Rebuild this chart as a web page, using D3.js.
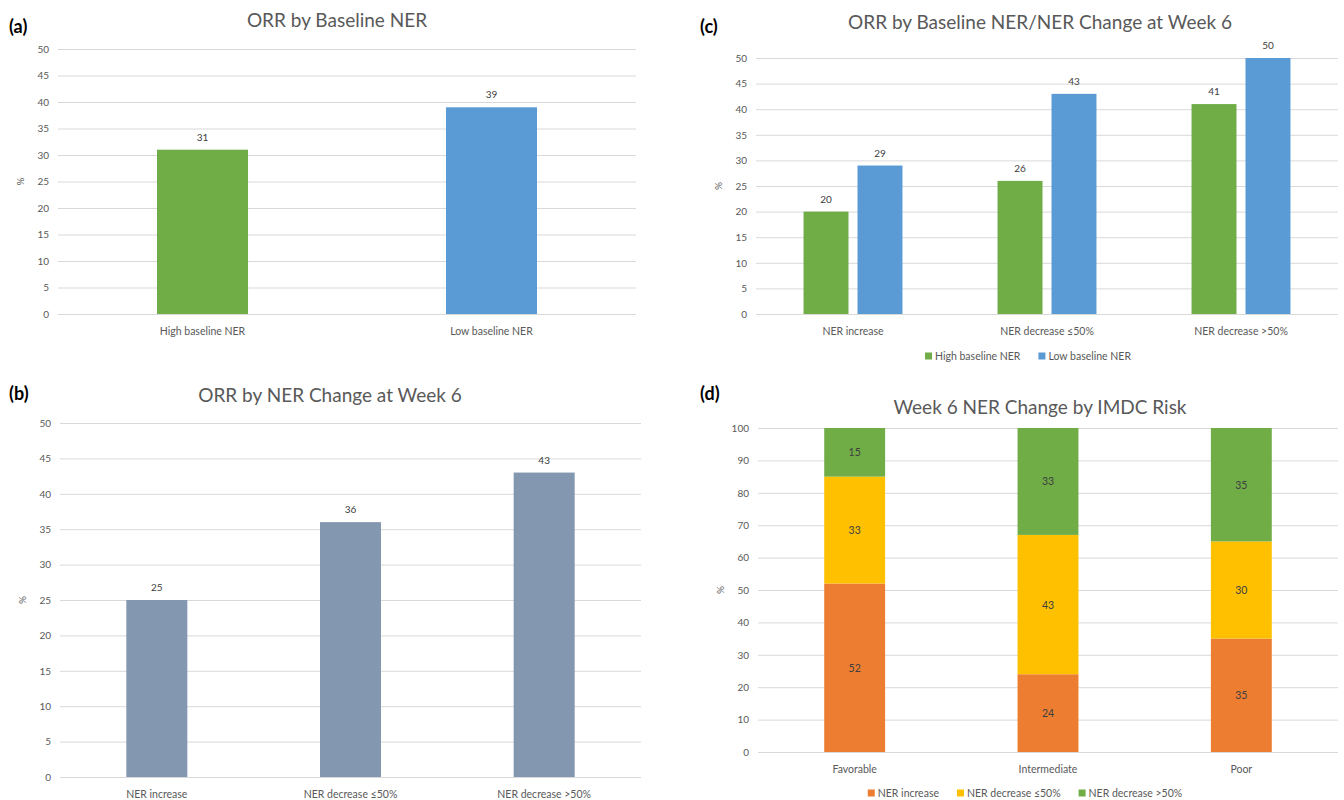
<!DOCTYPE html>
<html>
<head>
<meta charset="utf-8">
<script src="https://cdn.jsdelivr.net/npm/d3@7"></script>
<style>
  body { margin: 0; background: #fff; }
  text { font-family: Lato, "Open Sans", sans-serif; }
  .tick line { stroke: #d9d9d9; }
  .tick text { fill: #595959; font-size: 10px; }
</style>
</head>
<body>
<svg id="fig" width="1344" height="800"></svg>
<script>
// ---- data ----
const baselineCats = ["High baseline NER", "Low baseline NER"];
const baselineORR = [31, 39];

const changeCats = ["NER increase", "NER decrease \u226450%", "NER decrease >50%"];
const changeORR = [25, 36, 43];

const groupSeries = ["High baseline NER", "Low baseline NER"];
const highBaselineORR = [20, 26, 41];
const lowBaselineORR = [29, 43, 50];

const riskCats = ["Favorable", "Intermediate", "Poor"];
const riskSeries = ["NER increase", "NER decrease \u226450%", "NER decrease >50%"];
const nerIncrease = [52, 24, 35];
const nerDecreaseLE50 = [33, 43, 30];
const nerDecreaseGT50 = [15, 33, 35];

const ticks50 = [0, 5, 10, 15, 20, 25, 30, 35, 40, 45, 50];
const ticks100 = [0, 10, 20, 30, 40, 50, 60, 70, 80, 90, 100];

// ---- palette & type sizes ----
const GREEN = "#70ad47", BLUE = "#5b9bd5", SLATE = "#8497b0",
      ORANGE = "#ed7d31", GOLD = "#ffc000";
const TXT = "#595959", VAL = "#404040";
const TITLE_SIZE = 19, CAT_SIZE = 10.5, VAL_SIZE = 10, LEG_SIZE = 10.5;

const svg = d3.select("#fig");

// Shared frame: panel tag, title, gridlines, y ticks, % label, category labels
function frame(p) {
  const g = svg.append("g");
  g.append("text").attr("x", p.tagX).attr("y", p.tagY).text(p.tag)
    .attr("font-family", "Liberation Sans, Arial, sans-serif")
    .attr("font-weight", "bold").attr("font-size", 18).attr("fill", "#000");
  g.append("text").attr("x", p.titleX).attr("y", p.titleY).text(p.title)
    .attr("text-anchor", "middle").attr("font-size", TITLE_SIZE).attr("fill", TXT);

  const y = d3.scaleLinear().domain(p.yDomain).range(p.yRange);
  const x = d3.scaleBand().domain(p.cats).range(p.xRange).padding(0);

  const ax = g.append("g").attr("transform", `translate(${p.xRange[0]},0)`)
    .call(d3.axisLeft(y).tickValues(p.ticks).tickSize(-(p.xRange[1] - p.xRange[0])).tickPadding(9));
  ax.select(".domain").remove();
  ax.selectAll(".tick line").attr("stroke", "#d9d9d9");

  g.append("text")
    .attr("transform", `translate(${p.xRange[0] - 34},${(p.yRange[0] + p.yRange[1]) / 2}) rotate(-90)`)
    .attr("text-anchor", "middle").attr("font-size", 10).attr("fill", TXT).text("%");

  g.selectAll(".cat").data(p.cats).join("text")
    .attr("x", d => x(d) + x.bandwidth() / 2).attr("y", p.yRange[0] + 21)
    .attr("text-anchor", "middle").attr("font-size", CAT_SIZE).attr("fill", TXT).text(d => d);

  return { g, x, y };
}

function legend(g, items, colors, cx, cy) {
  const lg = g.append("g");
  let off = 0;
  items.forEach((name, i) => {
    const it = lg.append("g").attr("transform", `translate(${off},0)`);
    it.append("rect").attr("x", 0).attr("y", -7.5).attr("width", 7).attr("height", 7).attr("fill", colors[i]);
    const t = it.append("text").attr("x", 10).attr("y", 0).attr("font-size", LEG_SIZE).attr("fill", TXT).text(name);
    off += 10 + t.node().getComputedTextLength() + 18;
  });
  const w = off - 18;
  lg.attr("transform", `translate(${cx - w / 2},${cy})`);
}

// (a) ORR by baseline NER
{
  const p = { tag: "(a)", tagX: 9, tagY: 33, title: "ORR by Baseline NER", titleX: 337, titleY: 27,
    cats: baselineCats, xRange: [58, 636], yDomain: [0, 50], yRange: [314, 49], ticks: ticks50 };
  const { g, x, y } = frame(p);
  const bw = x.bandwidth() * 0.315;
  const data = baselineCats.map((c, i) => ({ c, v: baselineORR[i], col: [GREEN, BLUE][i] }));
  g.selectAll(".bar").data(data).join("rect")
    .attr("x", d => x(d.c) + x.bandwidth() / 2 - bw / 2).attr("width", bw)
    .attr("y", d => y(d.v)).attr("height", d => y(0) - y(d.v)).attr("fill", d => d.col);
  g.selectAll(".val").data(data).join("text")
    .attr("x", d => x(d.c) + x.bandwidth() / 2).attr("y", d => y(d.v) - 9)
    .attr("text-anchor", "middle").attr("font-size", VAL_SIZE).attr("fill", VAL).text(d => d.v);
}

// (b) ORR by NER change at week 6
{
  const p = { tag: "(b)", tagX: 9, tagY: 400, title: "ORR by NER Change at Week 6", titleX: 330, titleY: 402,
    cats: changeCats, xRange: [60, 641], yDomain: [0, 50], yRange: [777, 423], ticks: ticks50 };
  const { g, x, y } = frame(p);
  const bw = x.bandwidth() * 0.315;
  const data = changeCats.map((c, i) => ({ c, v: changeORR[i] }));
  g.selectAll(".bar").data(data).join("rect")
    .attr("x", d => x(d.c) + x.bandwidth() / 2 - bw / 2).attr("width", bw)
    .attr("y", d => y(d.v)).attr("height", d => y(0) - y(d.v)).attr("fill", SLATE);
  g.selectAll(".val").data(data).join("text")
    .attr("x", d => x(d.c) + x.bandwidth() / 2).attr("y", d => y(d.v) - 9)
    .attr("text-anchor", "middle").attr("font-size", VAL_SIZE).attr("fill", VAL).text(d => d.v);
}

// (c) ORR by baseline NER within each NER change group
{
  const p = { tag: "(c)", tagX: 700, tagY: 33, title: "ORR by Baseline NER/NER Change at Week 6", titleX: 1040, titleY: 29,
    cats: changeCats, xRange: [756, 1338], yDomain: [0, 50], yRange: [314, 58], ticks: ticks50 };
  const { g, x, y } = frame(p);
  const gw = x.bandwidth() * 0.51;
  const x1 = d3.scaleBand().domain(groupSeries).range([0, gw]).paddingInner(0.167);
  const seriesVals = [highBaselineORR, lowBaselineORR];
  const cols = [GREEN, BLUE];
  const data = [];
  changeCats.forEach((c, i) => groupSeries.forEach((s, j) => data.push({ c, s, v: seriesVals[j][i], col: cols[j] })));
  const bx = d => x(d.c) + x.bandwidth() / 2 - gw / 2 + x1(d.s);
  g.selectAll(".bar").data(data).join("rect")
    .attr("x", bx).attr("width", x1.bandwidth())
    .attr("y", d => y(d.v)).attr("height", d => y(0) - y(d.v)).attr("fill", d => d.col);
  g.selectAll(".val").data(data).join("text")
    .attr("x", d => bx(d) + x1.bandwidth() / 2).attr("y", d => y(d.v) - 9)
    .attr("text-anchor", "middle").attr("font-size", VAL_SIZE).attr("fill", VAL).text(d => d.v);
  legend(g, groupSeries, cols, 1028, 360);
}

// (d) Week 6 NER change by IMDC risk (stacked)
{
  const p = { tag: "(d)", tagX: 700, tagY: 400, title: "Week 6 NER Change by IMDC Risk", titleX: 1040, titleY: 414,
    cats: riskCats, xRange: [758, 1338], yDomain: [0, 100], yRange: [752, 428], ticks: ticks100 };
  const { g, x, y } = frame(p);
  const bw = x.bandwidth() * 0.315;
  const rows = riskCats.map((c, i) => ({ cat: c, [riskSeries[0]]: nerIncrease[i],
    [riskSeries[1]]: nerDecreaseLE50[i], [riskSeries[2]]: nerDecreaseGT50[i] }));
  const stack = d3.stack().keys(riskSeries)(rows);
  const cols = [ORANGE, GOLD, GREEN];
  stack.forEach((layer, li) => {
    const lg = g.append("g");
    lg.selectAll("rect").data(layer).join("rect")
      .attr("x", d => x(d.data.cat) + x.bandwidth() / 2 - bw / 2).attr("width", bw)
      .attr("y", d => y(d[1])).attr("height", d => y(d[0]) - y(d[1])).attr("fill", cols[li]);
    lg.selectAll("text").data(layer).join("text")
      .attr("x", d => x(d.data.cat) + x.bandwidth() / 2).attr("y", d => (y(d[0]) + y(d[1])) / 2 + 4)
      .attr("text-anchor", "middle").attr("font-size", 10.5).attr("fill", VAL)
      .text(d => d[1] - d[0]);
  });
  legend(g, riskSeries, cols, 1025, 797);
}
</script>
</body>
</html>
